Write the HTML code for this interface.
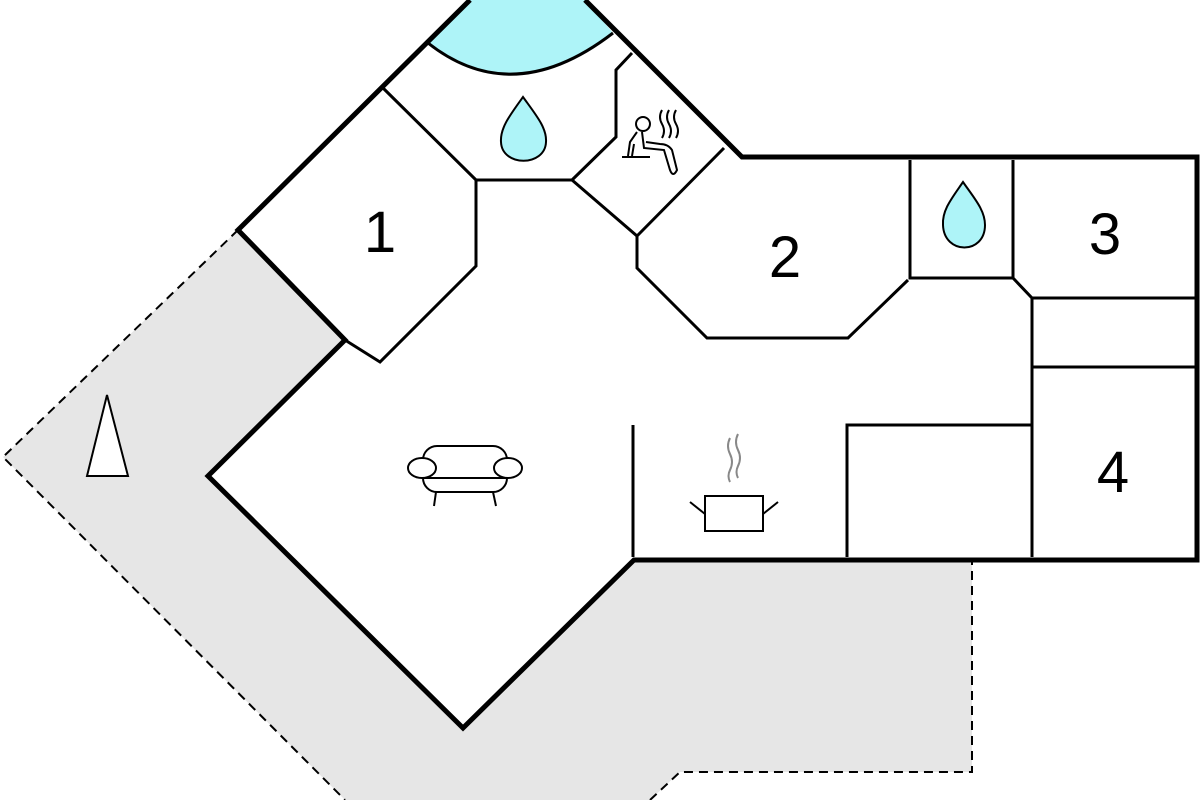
<!DOCTYPE html>
<html><head><style>body{margin:0;background:#fff}svg{display:block}</style></head><body>
<svg width="1200" height="800" viewBox="0 0 1200 800" xmlns="http://www.w3.org/2000/svg">
<polygon points="238,230 3,457 345,800 650,800 680,772 972,772 972,560 634,560 463,728 208,476 345,340" fill="#e6e6e6" stroke="none"/>
<polyline points="238,230 3,457 345,800" fill="none" stroke="#000" stroke-width="2" stroke-dasharray="9,6"/>
<polyline points="650,800 680,772 972,772 972,560" fill="none" stroke="#000" stroke-width="2" stroke-dasharray="9,6"/>
<path d="M428,43 Q513,110 613,33 L585,0 L470,0 Z" fill="#aef4f8"/>
<path d="M428,43 Q513,110 613,33" fill="none" stroke="#000" stroke-width="3"/>
<g fill="none" stroke="#000" stroke-width="3">
<polyline points="383,88 476,180 572,180"/>
<polyline points="476,180 476,266 380,362 345,340"/>
<polyline points="572,180 616,137 616,70 632,53"/>
<polyline points="572,180 637,236 724,148"/>
<polyline points="637,236 637,268 707,338 848,338 908,280"/>
<polyline points="910,160 910,278 1013,278 1013,160"/>
<polyline points="1013,278 1032,298 1197,298"/>
<polyline points="1032,298 1032,557"/>
<line x1="1032" y1="367" x2="1197" y2="367"/>
<polyline points="847,557 847,425 1032,425"/>
<line x1="633" y1="425" x2="633" y2="557"/>
</g>
<polyline points="470,0 238,230 345,340 208,476 463,728 634,560 1197,560 1197,157 742,157 585,0" fill="none" stroke="#000" stroke-width="5" stroke-linejoin="miter"/>
<path d="M523,97 C510,115 500,128 501,142 C502,167 545,167 546,142 C547,128 536,115 523,97 Z" fill="#aef4f8" stroke="#000" stroke-width="2"/>
<path d="M963,182 C952,198 942,210 943,225 C944,255 985,255 985,225 C985,210 974,198 963,182 Z" fill="#aef4f8" stroke="#000" stroke-width="2"/>
<g fill="none" stroke="#000" stroke-width="2">
<circle cx="643" cy="124" r="7"/>
<path d="M637,132 L630,142 L628,156 M642,132 L644,148 L664,150 L670,170 Q673,178 677,170 L672,150 Q668,144 660,144 L646,142 M622,157 L650,157 M634,144 L632,156"/>
<path d="M662,110 q-4,7 0,14 q4,7 0,14 M669,110 q-4,7 0,14 q4,7 0,14 M676,110 q-4,7 0,14 q4,7 0,14"/>
</g>
<polygon points="87,476 128,476 107,395" fill="#fff" stroke="#000" stroke-width="2"/>
<g fill="#fff" stroke="#000" stroke-width="2">
<rect x="423" y="446" width="84" height="46" rx="14"/>
<ellipse cx="422" cy="468" rx="14" ry="10"/>
<ellipse cx="508" cy="468" rx="14" ry="10"/>
<line x1="436" y1="492" x2="434" y2="506"/><line x1="493" y1="492" x2="496" y2="506"/>
<line x1="423" y1="478" x2="507" y2="478"/>
</g>
<g fill="none" stroke="#000" stroke-width="2">
<rect x="705" y="496" width="58" height="35" fill="#fff"/>
<line x1="690" y1="502" x2="705" y2="514"/><line x1="778" y1="502" x2="763" y2="514"/>
</g>
<g fill="none" stroke="#888" stroke-width="2">
<path d="M730,438 q-4,8 0,16 q4,8 0,16 q-3,6 0,12 M738,434 q-4,8 0,16 q4,8 0,16 q-3,6 0,12"/>
</g>
<g font-family="Liberation Sans, sans-serif" font-size="58" fill="#000" text-anchor="middle">
<text x="380" y="252">1</text>
<text x="785" y="277">2</text>
<text x="1105" y="254">3</text>
<text x="1113" y="492">4</text>
</g>
</svg>
</body></html>
